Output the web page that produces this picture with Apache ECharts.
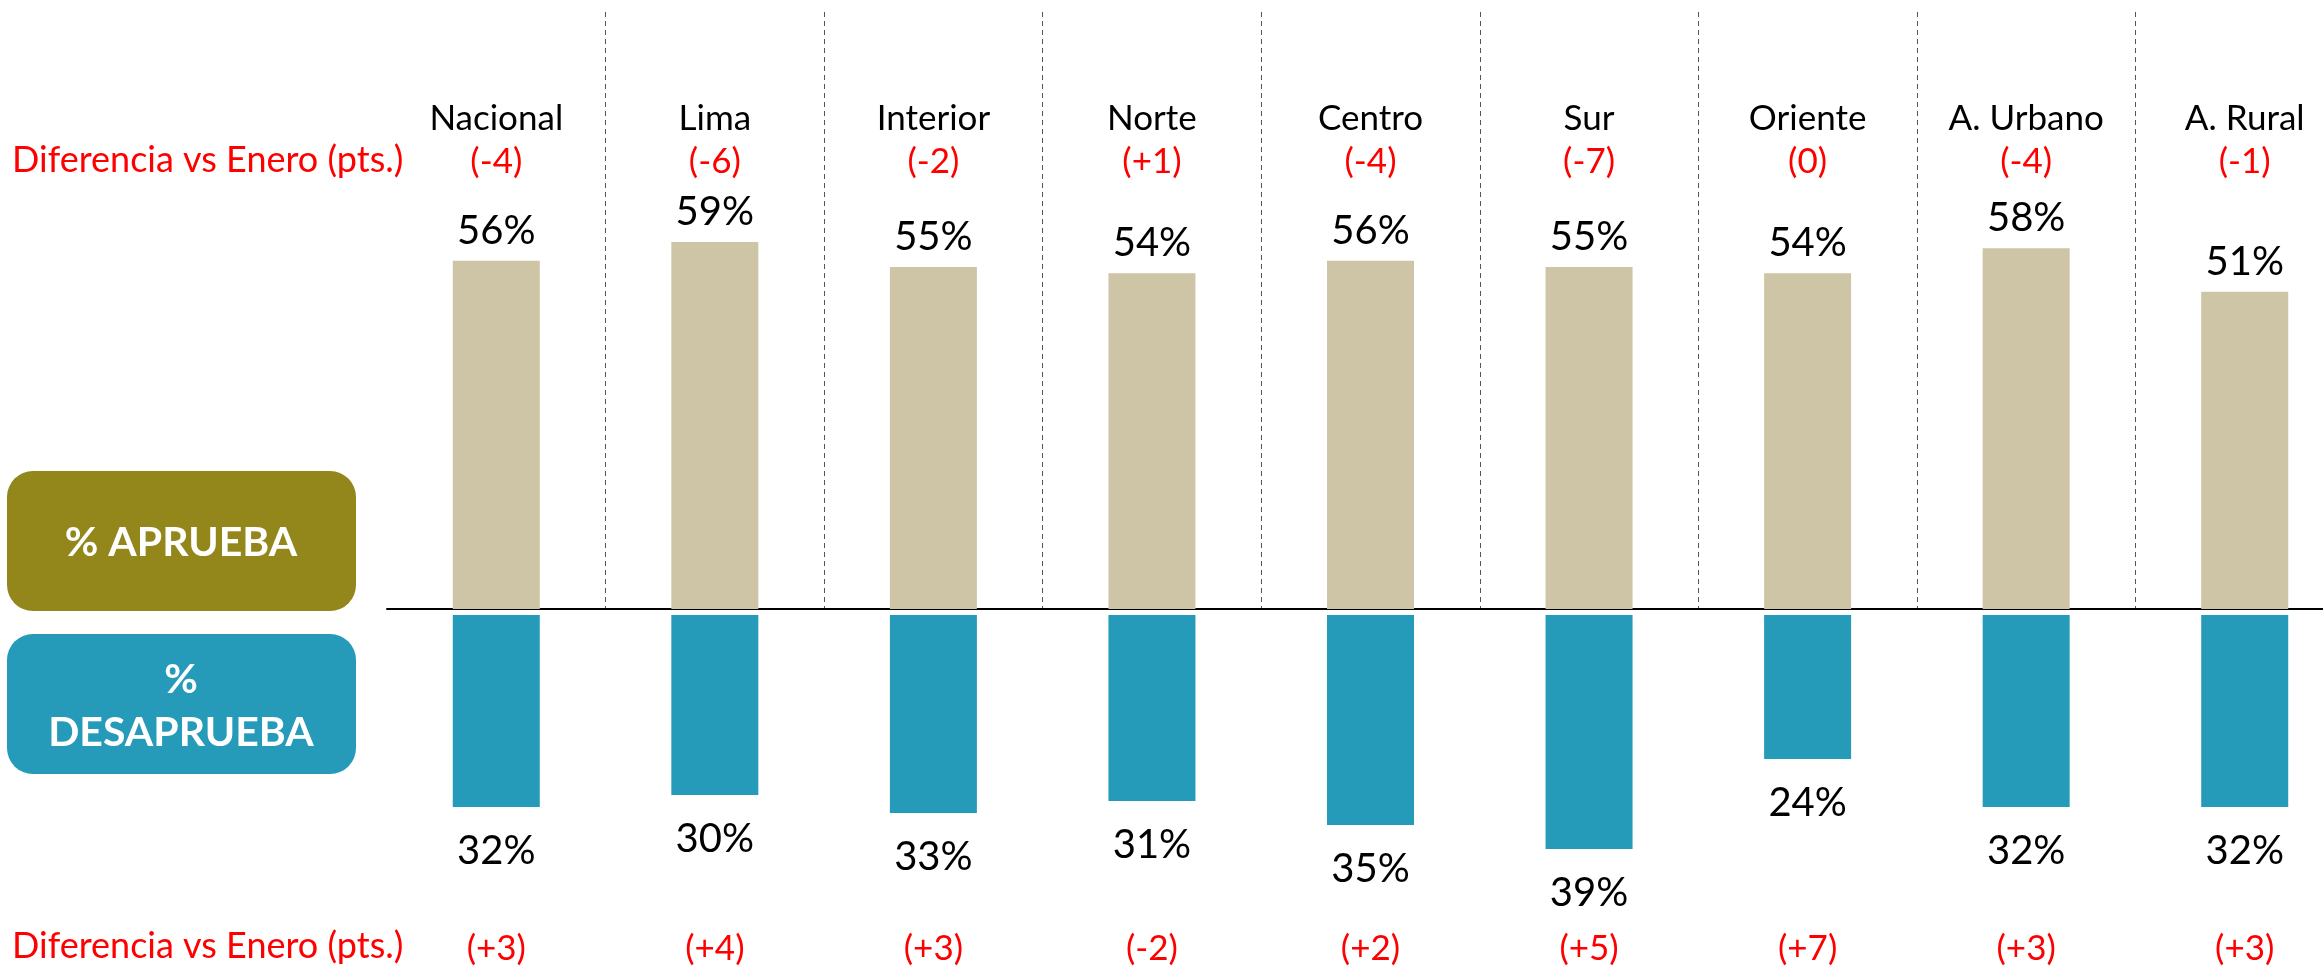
<!DOCTYPE html>
<html lang="es">
<head>
    <meta charset="UTF-8">
    <title>Aprueba / Desaprueba</title>
    <script src="https://cdn.jsdelivr.net/npm/echarts@6.0.0/dist/echarts.min.js"></script>
    <style>
        html, body { margin: 0; padding: 0; background: #fff; }
    </style>
</head>
<body>
    <div id="main" style="width: 2323px;height:973px;"></div>
    <script type="text/javascript">
        // data
        var categories = ['Nacional', 'Lima', 'Interior', 'Norte', 'Centro', 'Sur', 'Oriente', 'A. Urbano', 'A. Rural'];
        var aprueba = [56, 59, 55, 54, 56, 55, 54, 58, 51];
        var desaprueba = [32, 30, 33, 31, 35, 39, 24, 32, 32];
        var difAprueba = ['(-4)', '(-6)', '(-2)', '(+1)', '(-4)', '(-7)', '(0)', '(-4)', '(-1)'];
        var difDesaprueba = ['(+3)', '(+4)', '(+3)', '(-2)', '(+2)', '(+5)', '(+7)', '(+3)', '(+3)'];

        var FONT = 'Lato';
        var myChart = echarts.init(document.getElementById('main'));

        var option = {
            animation: false,
            textStyle: { fontFamily: FONT },
            grid: [
                { left: 387, top: 12, width: 1967, height: 597, outerBoundsMode: 'none' },
                { left: 387, top: 615, width: 1967, height: 354, outerBoundsMode: 'none' }
            ],
            xAxis: [
                {
                    // axis line + dashed separators
                    type: 'category',
                    gridIndex: 0,
                    data: categories,
                    axisLine: { show: true, lineStyle: { color: '#000', width: 2 } },
                    axisTick: { show: false },
                    axisLabel: { show: false },
                    splitLine: {
                        show: true,
                        showMinLine: false,
                        lineStyle: { color: '#555', type: [5, 4], width: 1 }
                    }
                },
                {
                    // bottom diff row
                    type: 'category',
                    gridIndex: 1,
                    data: categories,
                    position: 'bottom',
                    offset: -46,
                    axisLine: { show: false, onZero: false },
                    axisTick: { show: false },
                    axisLabel: {
                        margin: 8,
                        fontSize: 35,
                        color: '#ff0000',
                        fontFamily: FONT,
                        formatter: function(v, i) { return difDesaprueba[i]; }
                    }
                },
                {
                    // category names + top diff row
                    type: 'category',
                    gridIndex: 0,
                    data: categories,
                    position: 'top',
                    offset: -181,
                    axisLine: { show: false, onZero: false },
                    axisTick: { show: false },
                    axisLabel: {
                        margin: 8,
                        fontFamily: FONT,
                        formatter: function(v, i) {
                            return '{n|' + v + '}\n{d|' + difAprueba[i] + '}';
                        },
                        rich: {
                            n: { fontSize: 35, color: '#000', lineHeight: 40, fontFamily: FONT },
                            d: { fontSize: 35, color: '#ff0000', lineHeight: 46, fontFamily: FONT }
                        }
                    }
                }
            ],
            yAxis: [
                { type: 'value', gridIndex: 0, min: 0, max: 96, show: false },
                { type: 'value', gridIndex: 1, min: 0, max: 59, inverse: true, show: false }
            ],
            series: [
                {
                    name: 'Aprueba',
                    type: 'bar',
                    xAxisIndex: 0,
                    yAxisIndex: 0,
                    barWidth: 87,
                    itemStyle: { color: '#CDC5A5' },
                    label: {
                        show: true,
                        position: 'top',
                        distance: 10,
                        fontSize: 40,
                        color: '#000',
                        fontFamily: FONT,
                        formatter: '{c}%'
                    },
                    data: aprueba
                },
                {
                    name: 'Desaprueba',
                    type: 'bar',
                    xAxisIndex: 1,
                    yAxisIndex: 1,
                    barWidth: 87,
                    itemStyle: { color: '#259AB9' },
                    label: {
                        show: true,
                        position: 'bottom',
                        distance: 24,
                        fontSize: 40,
                        color: '#000',
                        fontFamily: FONT,
                        formatter: '{c}%'
                    },
                    data: desaprueba
                }
            ],
            graphic: [
                {
                    type: 'text',
                    left: 12,
                    top: 142,
                    style: { text: 'Diferencia vs Enero (pts.)', fill: '#ff0000', font: '36px ' + FONT }
                },
                {
                    type: 'text',
                    left: 12,
                    top: 928,
                    style: { text: 'Diferencia vs Enero (pts.)', fill: '#ff0000', font: '36px ' + FONT }
                },
                {
                    type: 'rect',
                    shape: { x: 7, y: 471, width: 349, height: 140, r: 26 },
                    style: { fill: '#93861A' }
                },
                {
                    type: 'text',
                    x: 181,
                    y: 543,
                    style: {
                        text: '% APRUEBA',
                        fill: '#fff',
                        font: 'bold 41px ' + FONT,
                        align: 'center',
                        verticalAlign: 'middle'
                    }
                },
                {
                    type: 'rect',
                    shape: { x: 7, y: 634, width: 349, height: 140, r: 26 },
                    style: { fill: '#259AB9' }
                },
                {
                    type: 'text',
                    x: 181,
                    y: 706,
                    style: {
                        text: '%\nDESAPRUEBA',
                        fill: '#fff',
                        font: 'bold 41px ' + FONT,
                        lineHeight: 53,
                        align: 'center',
                        verticalAlign: 'middle'
                    }
                }
            ]
        };

        myChart.setOption(option);
    </script>
</body>
</html>
